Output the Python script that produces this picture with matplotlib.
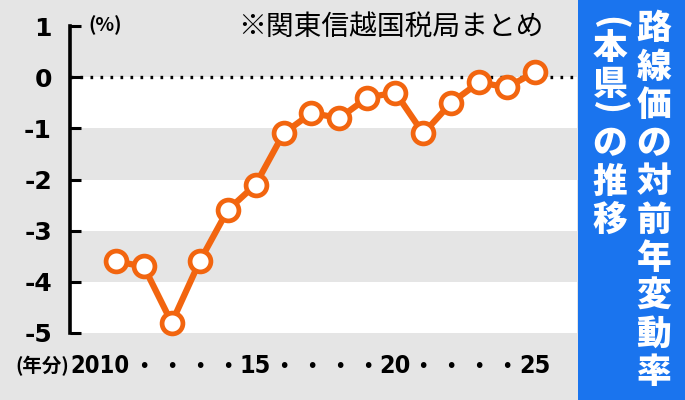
import matplotlib
matplotlib.use("Agg")
import matplotlib.pyplot as plt
from matplotlib.transforms import blended_transform_factory

# 路線価の対前年変動率（本県）
years = list(range(2010, 2026))
rate = [-3.6, -3.7, -4.8, -3.6, -2.6, -2.1, -1.1, -0.7, -0.8, -0.4, -0.3, -1.1, -0.5, -0.1, -0.2, 0.1]
yticks = [1, 0, -1, -2, -3, -4, -5]
xlabels = {2015: "15", 2020: "20", 2025: "25"}
title_right = "路線価の対前年変動率"
title_left = ["(", "本", "県", ")", "の", "推", "移"]
source = "※関東信越国税局まとめ"

GRAY = "#e5e5e5"
ORANGE = "#f2650f"
BLUE = "#1a74ee"
JP = ["Noto Sans CJK JP", "DejaVu Sans"]

fig = plt.figure(figsize=(6.85, 4.0), dpi=100)
fig.patch.set_facecolor(GRAY)

ax = fig.add_axes([70 / 685, 1 - 333 / 400, 507 / 685, 307 / 400])
ax.set_facecolor(GRAY)
ax.set_xlim(2008.36, 2026.5)
ax.set_ylim(-5, 1)

# 白い帯
for top in [0, -2, -4]:
    ax.axhspan(top - 1, top, color="white", lw=0, zorder=0)

ax.axhline(0, color="black", lw=2.4, linestyle=(0, (0.8, 2.2)), zorder=1)

ax.plot(years, rate, color=ORANGE, lw=4.5, marker="o", markersize=15,
        markerfacecolor="white", markeredgecolor=ORANGE, markeredgewidth=3.4,
        zorder=3, clip_on=False)

for s in ["top", "right", "bottom"]:
    ax.spines[s].set_visible(False)
ax.spines["left"].set_linewidth(2.6)

ax.set_yticks(yticks)
ax.set_yticklabels([str(v) for v in yticks], fontsize=18, fontweight="bold",
                   family="DejaVu Sans")
ax.tick_params(axis="y", direction="in", length=8, width=2.2, pad=13)
ax.set_xticks([])

# x軸ラベル
tr = blended_transform_factory(ax.transData, fig.transFigure)
ty = 1 - 366 / 400
for yr in years:
    if yr == 2010:
        continue
    if yr in xlabels:
        ax.text(yr, ty, xlabels[yr], transform=tr, ha="center", va="center",
                fontsize=18, fontweight="bold", fontstretch="condensed",
                family="DejaVu Sans")
    else:
        ax.text(yr, ty, "•", transform=tr, ha="center", va="center",
                fontsize=14, family="DejaVu Sans")
fig.text(129 / 685, ty, "2010", ha="right", va="center",
         fontsize=17, fontweight="bold", fontstretch="condensed", family="DejaVu Sans")
fig.text(69 / 685, ty, "(年分)", ha="right", va="center",
         fontsize=14, fontweight="bold", family=JP)

fig.text(88 / 685, 1 - 25 / 400, "(%)", ha="left", va="center",
         fontsize=14, fontweight="bold", family=JP)
fig.text(391 / 685, 1 - 27 / 400, source, ha="center", va="center",
         fontsize=20, family=JP)

# 右側の青い見出し
fig.patches.append(plt.Rectangle((578 / 685, 0), 107 / 685, 1, transform=fig.transFigure,
                                 facecolor=BLUE, edgecolor="none", zorder=0))
for i, ch in enumerate(title_right):
    fig.text(654 / 685, 1 - (29 + 38.2 * i) / 400, ch, ha="center", va="center",
             fontsize=25, fontweight="heavy", color="white", family=JP)
left_y = [23, 48, 85, 108, 144, 182, 220]
for ch, yy in zip(title_left, left_y):
    rot = -90 if ch in "()" else 0
    fig.text(610 / 685, 1 - yy / 400, ch, ha="center", va="center", rotation=rot,
             fontsize=25, fontweight="heavy", color="white", family=JP)

fig.savefig("out.png", dpi=100, facecolor=GRAY)
